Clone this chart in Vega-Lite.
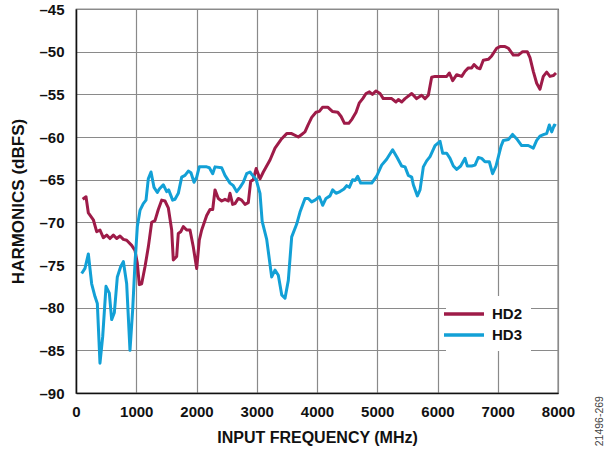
{
  "$schema": "https://vega.github.io/schema/vega-lite/v6.json",
  "width": 482,
  "height": 384,
  "padding": {"left": 76, "top": 9, "right": 58, "bottom": 59},
  "autosize": {"type": "none"},
  "background": "white",
  "config": {
    "font": "Liberation Sans",
    "view": {"stroke": "#222", "strokeWidth": 1.2},
    "axis": {
      "labelFont": "Liberation Sans", "labelFontWeight": "bold", "labelFontSize": 15, "labelColor": "#111",
      "titleFont": "Liberation Sans", "titleFontWeight": "bold", "titleColor": "#111",
      "gridColor": "#8a8a8a", "gridWidth": 1.2, "gridOpacity": 1,
      "domainColor": "#111", "domainWidth": 1.5,
      "ticks": false
    }
  },
  "datasets": {
    "hd": [
      {"f":111,"v":-67.3,"s":"HD2"},{"f":166,"v":-67.0,"s":"HD2"},{"f":205,"v":-68.9,"s":"HD2"},{"f":288,"v":-69.7,"s":"HD2"},
      {"f":343,"v":-71.1,"s":"HD2"},{"f":398,"v":-70.9,"s":"HD2"},{"f":453,"v":-71.8,"s":"HD2"},{"f":509,"v":-71.5,"s":"HD2"},
      {"f":564,"v":-71.9,"s":"HD2"},{"f":620,"v":-71.5,"s":"HD2"},{"f":675,"v":-71.9,"s":"HD2"},{"f":730,"v":-71.6,"s":"HD2"},
      {"f":786,"v":-72.0,"s":"HD2"},{"f":841,"v":-72.1,"s":"HD2"},{"f":924,"v":-72.7,"s":"HD2"},{"f":979,"v":-73.3,"s":"HD2"},
      {"f":1018,"v":-74.8,"s":"HD2"},{"f":1051,"v":-77.3,"s":"HD2"},{"f":1090,"v":-77.2,"s":"HD2"},{"f":1145,"v":-75.2,"s":"HD2"},
      {"f":1200,"v":-72.9,"s":"HD2"},{"f":1256,"v":-70.0,"s":"HD2"},{"f":1311,"v":-69.8,"s":"HD2"},{"f":1366,"v":-68.5,"s":"HD2"},
      {"f":1422,"v":-67.4,"s":"HD2"},{"f":1477,"v":-67.5,"s":"HD2"},{"f":1532,"v":-68.3,"s":"HD2"},{"f":1588,"v":-70.9,"s":"HD2"},
      {"f":1615,"v":-74.4,"s":"HD2"},{"f":1671,"v":-74.0,"s":"HD2"},{"f":1698,"v":-71.3,"s":"HD2"},{"f":1738,"v":-71.1,"s":"HD2"},
      {"f":1781,"v":-70.5,"s":"HD2"},{"f":1837,"v":-70.9,"s":"HD2"},{"f":1892,"v":-70.9,"s":"HD2"},{"f":1947,"v":-72.9,"s":"HD2"},
      {"f":2003,"v":-75.4,"s":"HD2"},{"f":2046,"v":-72.1,"s":"HD2"},{"f":2086,"v":-70.9,"s":"HD2"},{"f":2169,"v":-69.2,"s":"HD2"},
      {"f":2224,"v":-68.5,"s":"HD2"},{"f":2269,"v":-68.5,"s":"HD2"},{"f":2307,"v":-66.2,"s":"HD2"},{"f":2362,"v":-67.2,"s":"HD2"},
      {"f":2418,"v":-67.5,"s":"HD2"},{"f":2473,"v":-67.3,"s":"HD2"},{"f":2528,"v":-67.5,"s":"HD2"},{"f":2556,"v":-66.6,"s":"HD2"},
      {"f":2600,"v":-67.9,"s":"HD2"},{"f":2639,"v":-67.8,"s":"HD2"},{"f":2694,"v":-67.2,"s":"HD2"},{"f":2749,"v":-67.4,"s":"HD2"},
      {"f":2805,"v":-67.9,"s":"HD2"},{"f":2860,"v":-67.7,"s":"HD2"},{"f":2899,"v":-65.2,"s":"HD2"},{"f":2943,"v":-65.0,"s":"HD2"},
      {"f":2990,"v":-63.7,"s":"HD2"},{"f":3054,"v":-64.9,"s":"HD2"},{"f":3109,"v":-64.1,"s":"HD2"},{"f":3220,"v":-62.7,"s":"HD2"},
      {"f":3303,"v":-61.3,"s":"HD2"},{"f":3414,"v":-60.2,"s":"HD2"},{"f":3497,"v":-59.6,"s":"HD2"},{"f":3579,"v":-59.6,"s":"HD2"},
      {"f":3690,"v":-60.0,"s":"HD2"},{"f":3746,"v":-59.7,"s":"HD2"},{"f":3800,"v":-59.4,"s":"HD2"},{"f":3850,"v":-58.6,"s":"HD2"},
      {"f":3912,"v":-57.7,"s":"HD2"},{"f":3983,"v":-57.1,"s":"HD2"},{"f":4039,"v":-57.0,"s":"HD2"},{"f":4094,"v":-56.5,"s":"HD2"},
      {"f":4178,"v":-56.5,"s":"HD2"},{"f":4254,"v":-57.0,"s":"HD2"},{"f":4345,"v":-57.1,"s":"HD2"},{"f":4400,"v":-57.6,"s":"HD2"},
      {"f":4456,"v":-58.4,"s":"HD2"},{"f":4527,"v":-58.4,"s":"HD2"},{"f":4582,"v":-57.9,"s":"HD2"},{"f":4648,"v":-57.1,"s":"HD2"},
      {"f":4703,"v":-56.0,"s":"HD2"},{"f":4759,"v":-55.5,"s":"HD2"},{"f":4814,"v":-54.9,"s":"HD2"},{"f":4870,"v":-54.7,"s":"HD2"},
      {"f":4920,"v":-55.0,"s":"HD2"},{"f":4980,"v":-54.6,"s":"HD2"},{"f":5046,"v":-54.9,"s":"HD2"},{"f":5100,"v":-55.5,"s":"HD2"},
      {"f":5240,"v":-55.5,"s":"HD2"},{"f":5311,"v":-55.9,"s":"HD2"},{"f":5350,"v":-55.6,"s":"HD2"},{"f":5406,"v":-55.9,"s":"HD2"},
      {"f":5461,"v":-55.5,"s":"HD2"},{"f":5572,"v":-54.9,"s":"HD2"},{"f":5654,"v":-55.5,"s":"HD2"},{"f":5737,"v":-55.1,"s":"HD2"},
      {"f":5793,"v":-55.5,"s":"HD2"},{"f":5848,"v":-55.1,"s":"HD2"},{"f":5903,"v":-53.0,"s":"HD2"},{"f":5959,"v":-52.9,"s":"HD2"},
      {"f":6153,"v":-52.9,"s":"HD2"},{"f":6197,"v":-52.5,"s":"HD2"},{"f":6252,"v":-53.4,"s":"HD2"},{"f":6319,"v":-52.7,"s":"HD2"},
      {"f":6402,"v":-52.9,"s":"HD2"},{"f":6457,"v":-52.3,"s":"HD2"},{"f":6512,"v":-51.9,"s":"HD2"},{"f":6568,"v":-51.9,"s":"HD2"},
      {"f":6606,"v":-51.5,"s":"HD2"},{"f":6661,"v":-51.9,"s":"HD2"},{"f":6706,"v":-52.0,"s":"HD2"},{"f":6760,"v":-51.0,"s":"HD2"},
      {"f":6843,"v":-50.9,"s":"HD2"},{"f":6899,"v":-50.5,"s":"HD2"},{"f":6982,"v":-49.6,"s":"HD2"},{"f":7037,"v":-49.4,"s":"HD2"},
      {"f":7120,"v":-49.4,"s":"HD2"},{"f":7176,"v":-49.6,"s":"HD2"},{"f":7258,"v":-50.4,"s":"HD2"},{"f":7341,"v":-50.4,"s":"HD2"},
      {"f":7413,"v":-50.0,"s":"HD2"},{"f":7490,"v":-50.0,"s":"HD2"},{"f":7535,"v":-50.7,"s":"HD2"},{"f":7590,"v":-52.3,"s":"HD2"},
      {"f":7646,"v":-53.7,"s":"HD2"},{"f":7701,"v":-54.4,"s":"HD2"},{"f":7756,"v":-52.9,"s":"HD2"},{"f":7812,"v":-52.4,"s":"HD2"},
      {"f":7867,"v":-52.9,"s":"HD2"},{"f":7922,"v":-52.8,"s":"HD2"},{"f":7967,"v":-52.5,"s":"HD2"},

      {"f":94,"v":-76.0,"s":"HD3"},{"f":149,"v":-75.4,"s":"HD3"},{"f":205,"v":-73.7,"s":"HD3"},{"f":260,"v":-77.2,"s":"HD3"},
      {"f":315,"v":-78.7,"s":"HD3"},{"f":354,"v":-79.5,"s":"HD3"},{"f":398,"v":-86.5,"s":"HD3"},{"f":443,"v":-83.4,"s":"HD3"},
      {"f":498,"v":-77.5,"s":"HD3"},{"f":553,"v":-78.3,"s":"HD3"},{"f":592,"v":-81.4,"s":"HD3"},{"f":636,"v":-80.6,"s":"HD3"},
      {"f":686,"v":-76.4,"s":"HD3"},{"f":741,"v":-75.2,"s":"HD3"},{"f":786,"v":-74.6,"s":"HD3"},{"f":841,"v":-77.2,"s":"HD3"},
      {"f":896,"v":-85.0,"s":"HD3"},{"f":941,"v":-80.2,"s":"HD3"},{"f":979,"v":-74.8,"s":"HD3"},{"f":1018,"v":-70.5,"s":"HD3"},
      {"f":1062,"v":-68.6,"s":"HD3"},{"f":1117,"v":-67.8,"s":"HD3"},{"f":1162,"v":-67.4,"s":"HD3"},{"f":1200,"v":-64.9,"s":"HD3"},
      {"f":1245,"v":-64.1,"s":"HD3"},{"f":1295,"v":-65.9,"s":"HD3"},{"f":1350,"v":-66.5,"s":"HD3"},{"f":1383,"v":-66.1,"s":"HD3"},
      {"f":1449,"v":-65.6,"s":"HD3"},{"f":1505,"v":-66.4,"s":"HD3"},{"f":1538,"v":-66.2,"s":"HD3"},{"f":1604,"v":-67.4,"s":"HD3"},
      {"f":1643,"v":-67.3,"s":"HD3"},{"f":1698,"v":-66.6,"s":"HD3"},{"f":1754,"v":-64.7,"s":"HD3"},{"f":1809,"v":-64.5,"s":"HD3"},
      {"f":1864,"v":-64.0,"s":"HD3"},{"f":1908,"v":-64.2,"s":"HD3"},{"f":1959,"v":-65.3,"s":"HD3"},{"f":2003,"v":-64.7,"s":"HD3"},
      {"f":2046,"v":-63.5,"s":"HD3"},{"f":2169,"v":-63.5,"s":"HD3"},{"f":2213,"v":-63.6,"s":"HD3"},{"f":2269,"v":-64.3,"s":"HD3"},
      {"f":2307,"v":-63.5,"s":"HD3"},{"f":2418,"v":-63.6,"s":"HD3"},{"f":2473,"v":-64.5,"s":"HD3"},{"f":2556,"v":-65.4,"s":"HD3"},
      {"f":2611,"v":-65.7,"s":"HD3"},{"f":2667,"v":-66.4,"s":"HD3"},{"f":2722,"v":-65.9,"s":"HD3"},{"f":2777,"v":-65.3,"s":"HD3"},
      {"f":2832,"v":-64.3,"s":"HD3"},{"f":2888,"v":-64.1,"s":"HD3"},{"f":2921,"v":-64.4,"s":"HD3"},{"f":2990,"v":-65.0,"s":"HD3"},
      {"f":3054,"v":-66.6,"s":"HD3"},{"f":3090,"v":-69.9,"s":"HD3"},{"f":3165,"v":-72.0,"s":"HD3"},{"f":3248,"v":-76.4,"s":"HD3"},
      {"f":3303,"v":-75.6,"s":"HD3"},{"f":3358,"v":-76.2,"s":"HD3"},{"f":3414,"v":-78.5,"s":"HD3"},{"f":3469,"v":-78.9,"s":"HD3"},
      {"f":3524,"v":-76.8,"s":"HD3"},{"f":3580,"v":-71.7,"s":"HD3"},{"f":3663,"v":-70.2,"s":"HD3"},{"f":3718,"v":-68.8,"s":"HD3"},
      {"f":3801,"v":-67.2,"s":"HD3"},{"f":3856,"v":-67.2,"s":"HD3"},{"f":3911,"v":-67.6,"s":"HD3"},{"f":3967,"v":-67.4,"s":"HD3"},
      {"f":4039,"v":-67.0,"s":"HD3"},{"f":4094,"v":-68.0,"s":"HD3"},{"f":4149,"v":-67.2,"s":"HD3"},{"f":4216,"v":-66.9,"s":"HD3"},
      {"f":4260,"v":-66.2,"s":"HD3"},{"f":4316,"v":-66.6,"s":"HD3"},{"f":4382,"v":-66.4,"s":"HD3"},{"f":4448,"v":-66.1,"s":"HD3"},
      {"f":4493,"v":-65.7,"s":"HD3"},{"f":4537,"v":-65.9,"s":"HD3"},{"f":4592,"v":-65.0,"s":"HD3"},{"f":4631,"v":-65.1,"s":"HD3"},
      {"f":4675,"v":-64.6,"s":"HD3"},{"f":4725,"v":-65.4,"s":"HD3"},{"f":4797,"v":-65.4,"s":"HD3"},{"f":4908,"v":-65.4,"s":"HD3"},
      {"f":4990,"v":-64.6,"s":"HD3"},{"f":5073,"v":-63.3,"s":"HD3"},{"f":5156,"v":-62.6,"s":"HD3"},{"f":5255,"v":-61.5,"s":"HD3"},
      {"f":5330,"v":-62.4,"s":"HD3"},{"f":5405,"v":-63.4,"s":"HD3"},{"f":5461,"v":-63.5,"s":"HD3"},{"f":5516,"v":-64.5,"s":"HD3"},
      {"f":5572,"v":-64.7,"s":"HD3"},{"f":5599,"v":-65.6,"s":"HD3"},{"f":5666,"v":-66.9,"s":"HD3"},{"f":5710,"v":-66.2,"s":"HD3"},
      {"f":5765,"v":-63.5,"s":"HD3"},{"f":5820,"v":-62.8,"s":"HD3"},{"f":5876,"v":-62.3,"s":"HD3"},{"f":5959,"v":-61.0,"s":"HD3"},
      {"f":6042,"v":-60.5,"s":"HD3"},{"f":6086,"v":-61.9,"s":"HD3"},{"f":6153,"v":-61.9,"s":"HD3"},{"f":6208,"v":-62.5,"s":"HD3"},
      {"f":6263,"v":-63.4,"s":"HD3"},{"f":6319,"v":-63.8,"s":"HD3"},{"f":6385,"v":-63.4,"s":"HD3"},{"f":6457,"v":-62.5,"s":"HD3"},
      {"f":6495,"v":-63.4,"s":"HD3"},{"f":6568,"v":-63.4,"s":"HD3"},{"f":6623,"v":-63.3,"s":"HD3"},{"f":6677,"v":-62.4,"s":"HD3"},
      {"f":6733,"v":-62.5,"s":"HD3"},{"f":6788,"v":-62.9,"s":"HD3"},{"f":6860,"v":-62.9,"s":"HD3"},{"f":6914,"v":-64.3,"s":"HD3"},
      {"f":6971,"v":-63.4,"s":"HD3"},{"f":7054,"v":-61.1,"s":"HD3"},{"f":7093,"v":-60.4,"s":"HD3"},{"f":7176,"v":-60.3,"s":"HD3"},
      {"f":7246,"v":-59.7,"s":"HD3"},{"f":7313,"v":-60.2,"s":"HD3"},{"f":7396,"v":-61.0,"s":"HD3"},{"f":7507,"v":-61.0,"s":"HD3"},
      {"f":7590,"v":-61.3,"s":"HD3"},{"f":7646,"v":-60.4,"s":"HD3"},{"f":7701,"v":-59.9,"s":"HD3"},{"f":7768,"v":-59.7,"s":"HD3"},
      {"f":7812,"v":-59.6,"s":"HD3"},{"f":7856,"v":-58.6,"s":"HD3"},{"f":7895,"v":-59.4,"s":"HD3"},{"f":7939,"v":-58.6,"s":"HD3"},
      {"f":7967,"v":-58.7,"s":"HD3"}
    ],
    "note": [{"t": "21496-269"}]
  },
  "layer": [
    {
      "data": {"name": "hd"},
      "mark": {"type": "line", "strokeWidth": 3, "strokeJoin": "round"},
      "encoding": {
        "x": {
          "field": "f", "type": "quantitative",
          "scale": {"domain": [0, 8000], "nice": false},
          "axis": {"values": [0,1000,2000,3000,4000,5000,6000,7000,8000], "format": "d", "labelPadding": 11, "title": "INPUT FREQUENCY (MHz)", "titleFontSize": 16, "titlePadding": 10, "labelFlush": false}
        },
        "y": {
          "field": "v", "type": "quantitative",
          "scale": {"domain": [-90, -45], "nice": false, "zero": false},
          "axis": {"values": [-90,-85,-80,-75,-70,-65,-60,-55,-50,-45], "labelExpr": "'–' + abs(datum.value)", "labelPadding": 12, "title": "HARMONICS (dBFS)", "titleFontSize": 17, "titlePadding": 11}
        },
        "color": {
          "field": "s", "type": "nominal",
          "scale": {"domain": ["HD2", "HD3"], "range": ["#9E1B48", "#12A0D6"]},
          "legend": {
            "title": null, "orient": "none", "legendX": 370, "legendY": 287,
            "fillColor": "white", "padding": 8,
            "symbolType": "M-2.5,0H2.5", "symbolSize": 256, "symbolStrokeWidth": 3.5,
            "labelFont": "Liberation Sans", "labelFontWeight": "bold", "labelFontSize": 15, "labelColor": "#111",
            "labelOffset": 18, "rowPadding": 3
          }
        }
      }
    },
    {
      "data": {"name": "note"},
      "mark": {"type": "text", "angle": 270, "fontSize": 10.5, "color": "#444", "font": "Liberation Sans", "align": "center", "baseline": "middle"},
      "encoding": {
        "x": {"datum": 8690, "type": "quantitative"},
        "y": {"datum": -93.3, "type": "quantitative"},
        "text": {"field": "t"}
      }
    }
  ]
}
